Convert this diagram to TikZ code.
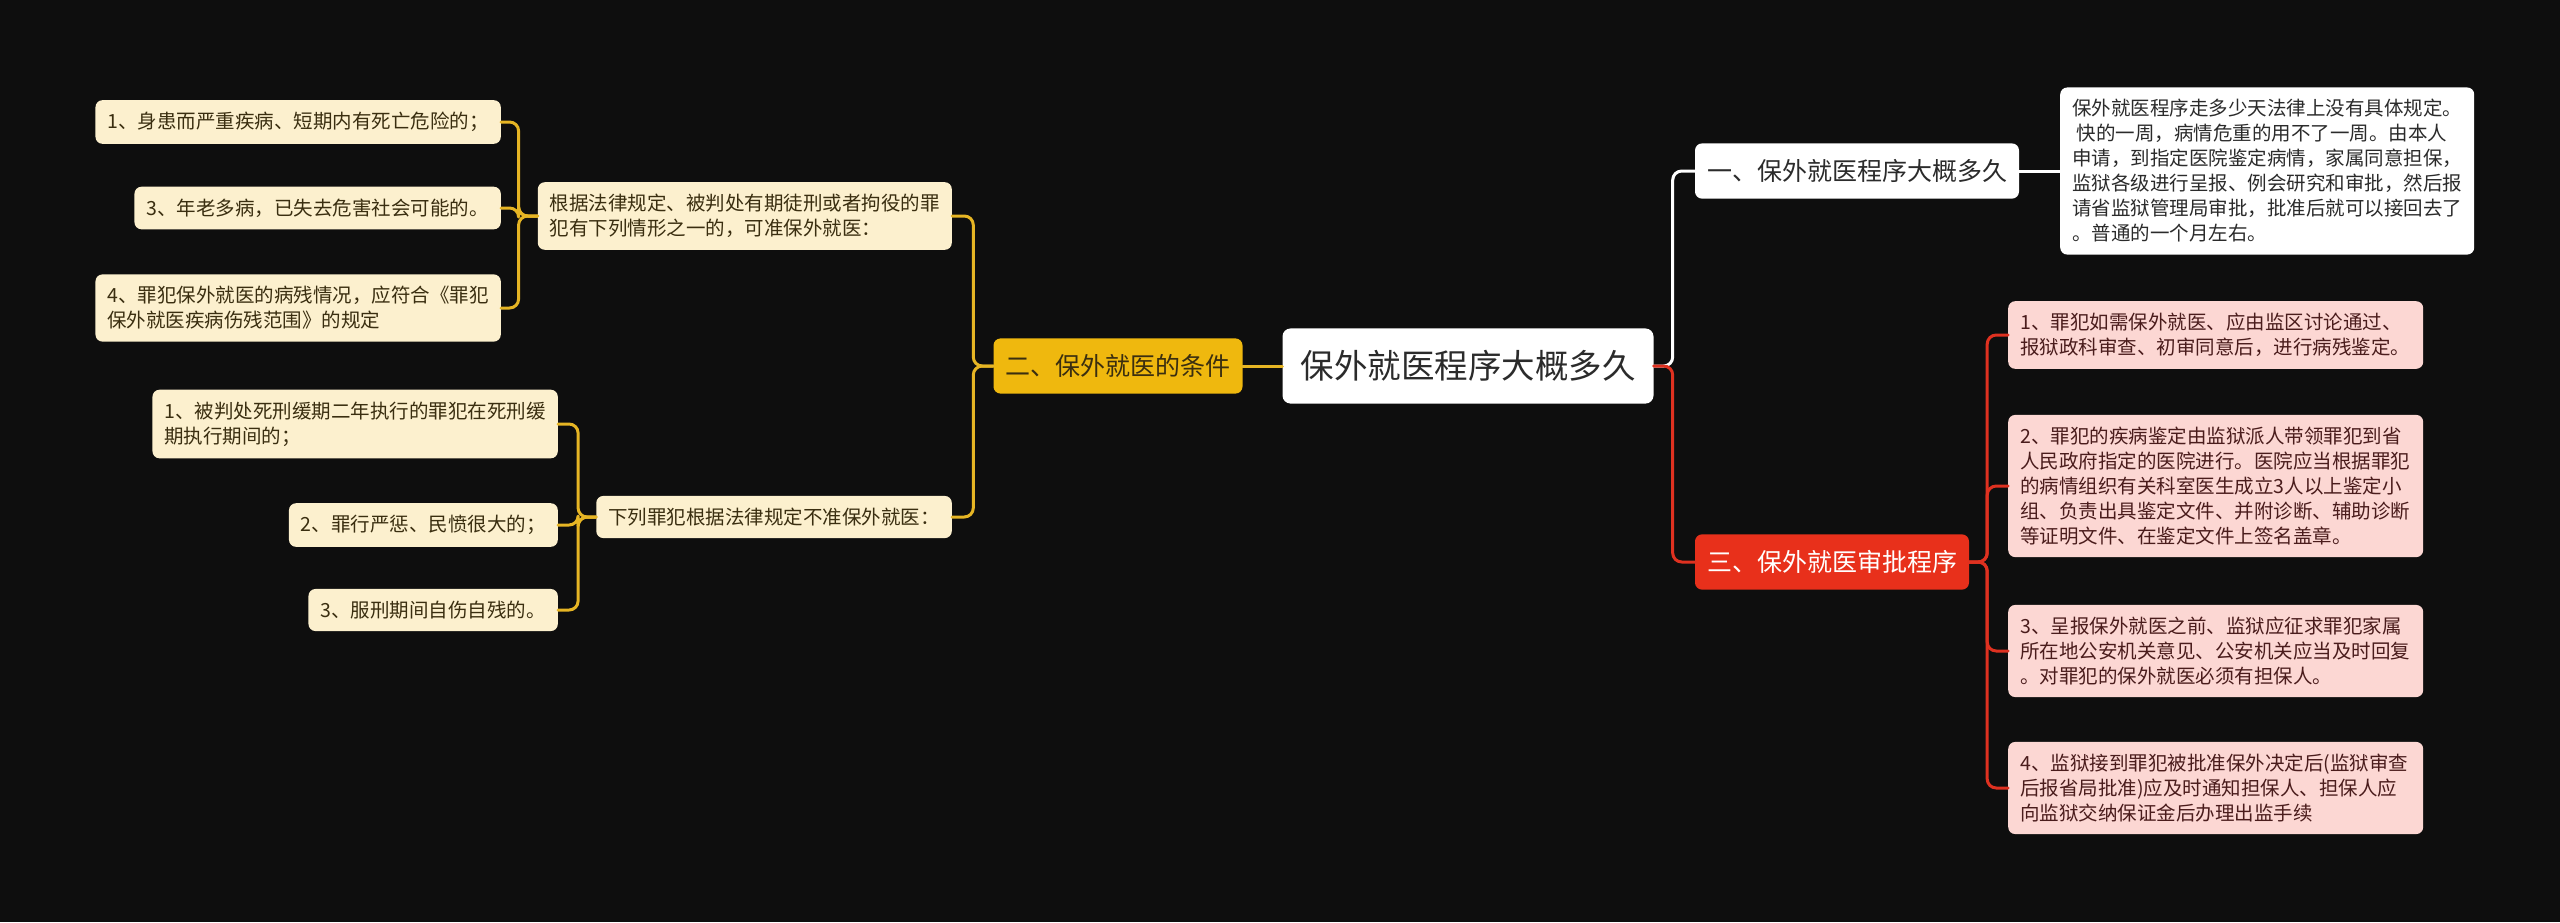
\documentclass[tikz,border=0pt]{standalone}
\usepackage{fontspec}
\setmainfont{Noto Sans CJK SC}
\definecolor{cBg}{HTML}{0E0E0E}
\definecolor{cYel}{HTML}{EFB80E}
\definecolor{cYelLine}{HTML}{E6B524}
\definecolor{cYelLeaf}{HTML}{FCF0CE}
\definecolor{cYelText}{HTML}{3A2E10}
\definecolor{cRed}{HTML}{E8301B}
\definecolor{cRedLine}{HTML}{DF3120}
\definecolor{cRedLeaf}{HTML}{FCD7D3}
\definecolor{cRedText}{HTML}{4A1C1C}
\definecolor{cDark}{HTML}{2B2B2B}
\begin{document}
\begin{tikzpicture}[x=1pt,y=-1pt,line join=round,line cap=round,
  box/.style={rounded corners=7pt,inner xsep=12pt,inner ysep=12pt,align=left,font=\fontsize{19.5}{25}\selectfont},
  leafy/.style={box,fill=cYelLeaf,text=cYelText},
  leafr/.style={box,fill=cRedLeaf,text=cRedText,text width=391pt},
  leafw/.style={box,fill=white,text=cDark},
  topic/.style={rounded corners=7pt,inner xsep=12pt,inner ysep=16pt,font=\fontsize{25}{30}\selectfont},
  linky/.style={draw=cYelLine,line width=3pt,rounded corners=9pt},
  linkr/.style={draw=cRedLine,line width=3pt,rounded corners=9pt},
  linkw/.style={draw=white,line width=3pt,rounded corners=9pt}]
  \fill[cBg] (0,0) rectangle (2560,922);
  \useasboundingbox (0,0) rectangle (2560,922);
  % root
  \node[rounded corners=8pt,fill=white,text=cDark,inner xsep=18pt,inner ysep=22pt,font=\fontsize{33.5}{38}\selectfont] (root) at (1468,366) {保外就医程序大概多久};
  % right, first branch
  \node[topic,fill=white,text=cDark] (one) at (1857,171) {一、保外就医程序大概多久};
  \node[leafw,anchor=west] (oneA) at (2060,171) {保外就医程序走多少天法律上没有具体规定。\\\ 快的一周，病情危重的用不了一周。由本人\\申请，到指定医院鉴定病情，家属同意担保，\\监狱各级进行呈报、例会研究和审批，然后报\\请省监狱管理局审批，批准后就可以接回去了\\。普通的一个月左右。};
  % right, third branch
  \node[topic,fill=cRed,text=white] (three) at (1832,562) {三、保外就医审批程序};
  \node[leafr,anchor=west] (threeA) at (2008,335) {1、罪犯如需保外就医、应由监区讨论通过、\\报狱政科审查、初审同意后，进行病残鉴定。};
  \node[leafr,anchor=west] (threeB) at (2008,486) {2、罪犯的疾病鉴定由监狱派人带领罪犯到省\\人民政府指定的医院进行。医院应当根据罪犯\\的病情组织有关科室医生成立3人以上鉴定小\\组、负责出具鉴定文件、并附诊断、辅助诊断\\等证明文件、在鉴定文件上签名盖章。};
  \node[leafr,anchor=west] (threeC) at (2008,651) {3、呈报保外就医之前、监狱应征求罪犯家属\\所在地公安机关意见、公安机关应当及时回复\\。对罪犯的保外就医必须有担保人。};
  \node[leafr,anchor=west] (threeD) at (2008,788) {4、监狱接到罪犯被批准保外决定后(监狱审查\\后报省局批准)应及时通知担保人、担保人应\\向监狱交纳保证金后办理出监手续};
  % left, second branch
  \node[topic,fill=cYel,text=cYelText] (two) at (1118,366) {二、保外就医的条件};
  \node[leafy,anchor=east] (twoA) at (952,216) {根据法律规定、被判处有期徒刑或者拘役的罪\\犯有下列情形之一的，可准保外就医：};
  \node[leafy,anchor=east] (twoB) at (952,517) {下列罪犯根据法律规定不准保外就医：};
  \node[leafy,anchor=east] (twoA1) at (501,122) {1、身患而严重疾病、短期内有死亡危险的；};
  \node[leafy,anchor=east] (twoA2) at (501,208) {3、年老多病，已失去危害社会可能的。};
  \node[leafy,anchor=east] (twoA3) at (501,308) {4、罪犯保外就医的病残情况，应符合《罪犯\\保外就医疾病伤残范围》的规定};
  \node[leafy,anchor=east] (twoB1) at (558,424) {1、被判处死刑缓期二年执行的罪犯在死刑缓\\期执行期间的；};
  \node[leafy,anchor=east] (twoB2) at (558,525) {2、罪行严惩、民愤很大的；};
  \node[leafy,anchor=east] (twoB3) at (558,610) {3、服刑期间自伤自残的。};
  % connectors
  \draw[linkw] (root.east) -- ++(19,0) |- (one.west);
  \draw[linkw] (one.east) -- (oneA.west);
  \draw[linkr] (root.east) -- ++(19,0) |- (three.west);
  \foreach \n in {threeA,threeB,threeC,threeD}
    \draw[linkr] (three.east) -- ++(18,0) |- (\n.west);
  \draw[linky] (root.west) -- (two.east);
  \foreach \n in {twoA,twoB}
    \draw[linky] (two.west) -- ++(-20,0) |- (\n.east);
  \foreach \n in {twoA1,twoA2,twoA3}
    \draw[linky] (twoA.west) -- ++(-19,0) |- (\n.east);
  \foreach \n in {twoB1,twoB2,twoB3}
    \draw[linky] (twoB.west) -- ++(-18,0) |- (\n.east);
\end{tikzpicture}
\end{document}
